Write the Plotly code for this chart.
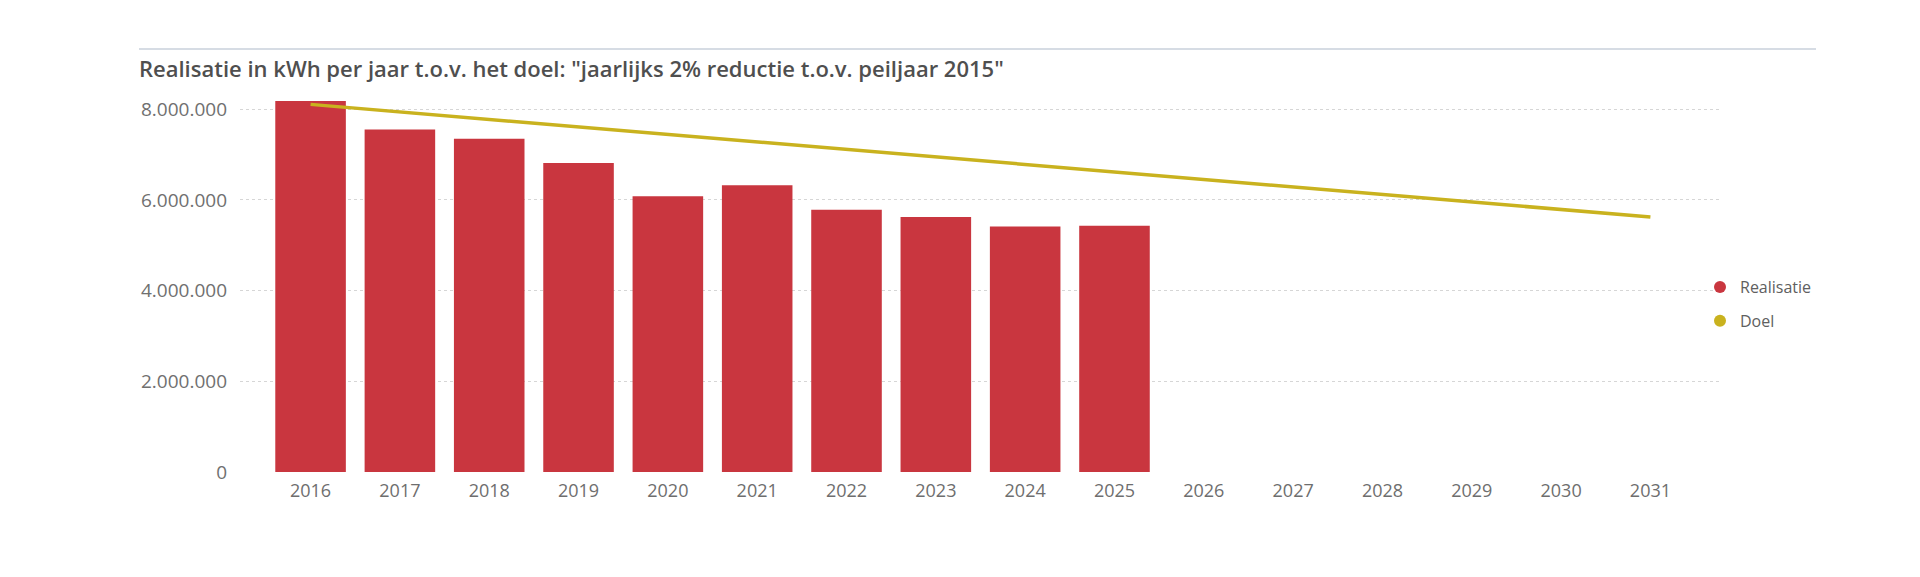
import plotly.graph_objects as go

years = ["2016", "2017", "2018", "2019", "2020", "2021", "2022", "2023",
         "2024", "2025", "2026", "2027", "2028", "2029", "2030", "2031"]
realisatie = [8180000, 7550000, 7350000, 6810000, 6080000, 6320000, 5780000,
              5620000, 5410000, 5430000]
doel = [8105000, 7940000, 7774000, 7608000, 7443000, 7277000, 7112000, 6946000,
        6781000, 6615000, 6450000, 6284000, 6119000, 5953000, 5788000, 5622000]
y_ticks = [0, 2000000, 4000000, 6000000, 8000000]

BAR = "#C9363F"
LINE = "#C9B21E"
W, H = 1920, 577
L, R, T, B = 232, 207, 83, 113

pw = W - L - R
ph = H - T - B


def xp(px):
    return (px - L) / pw


def yp(py):
    return (H - B - py) / ph


fig = go.Figure()
fig.add_trace(go.Bar(x=years[:len(realisatie)], y=realisatie, name="Realisatie",
                     marker=dict(color=BAR, line=dict(width=0)), showlegend=False))
fig.add_trace(go.Scatter(x=years, y=doel, name="Doel", mode="lines",
                         line=dict(color=LINE, width=3.5), showlegend=False))
# legend entries (circle markers)
fig.add_trace(go.Scatter(x=[None], y=[None], mode="markers", name="Realisatie",
                         marker=dict(color=BAR, size=12, symbol="circle"),
                         legendgroup="a"))
fig.add_trace(go.Scatter(x=[None], y=[None], mode="markers", name="Doel",
                         marker=dict(color=LINE, size=12, symbol="circle"),
                         legendgroup="b"))

fig.add_shape(type="line", xref="paper", yref="paper",
              x0=xp(131), x1=xp(1808), y0=yp(41), y1=yp(41),
              line=dict(color="#C9D1DB", width=1.5))

fig.update_layout(
    width=W, height=H,
    margin=dict(l=L, r=R, t=T, b=B, autoexpand=False),
    paper_bgcolor="white", plot_bgcolor="white",
    separators=",.",
    bargap=0.21,
    title=dict(text='Realisatie in kWh per jaar t.o.v. het doel: "jaarlijks 2% reductie t.o.v. peiljaar 2015"',
               xref="container", yref="container", x=131 / W, xanchor="left",
               y=1 - 61 / H, yanchor="middle",
               font=dict(family="Open Sans", size=22, color="#4F4F4F", weight=600)),
    font=dict(family="Open Sans", color="#707070"),
    xaxis=dict(type="category", range=[-0.79, 15.79], showgrid=False, zeroline=False,
               showline=False, ticks="", ticklabelstandoff=6,
               tickfont=dict(size=18, color="#6E6E6E"), fixedrange=True),
    yaxis=dict(range=[0, 8400000], tickvals=y_ticks, tickformat=",d",
               showgrid=True, gridcolor="#D6D6D6", griddash="dot", gridwidth=1,
               zeroline=False, showline=False, ticks="",
               ticklabelstandoff=12,
               tickfont=dict(size=19, color="#707070")),
    legend=dict(x=xp(1692), xanchor="left", y=yp(262), yanchor="top",
                font=dict(size=16, color="#606060", family="Open Sans"),
                traceorder="grouped", tracegroupgap=10, itemwidth=30,
                bgcolor="rgba(0,0,0,0)"),
)

fig.write_html("out.html")
